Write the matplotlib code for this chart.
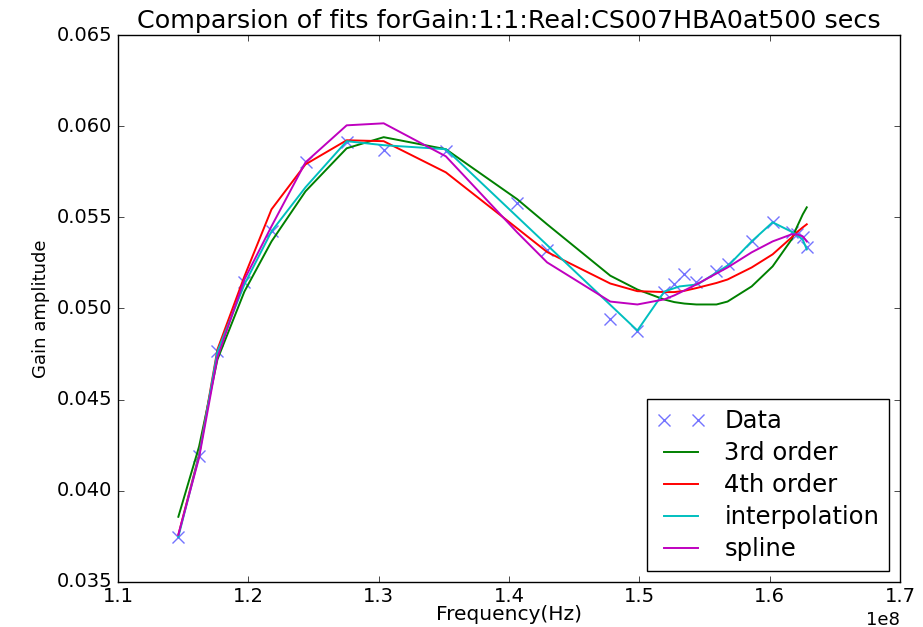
#!/usr/bin/env python3

import matplotlib
matplotlib.use("Agg")
import matplotlib.pyplot as plt

# frequencies are in units of 1e8 Hz (shown with the 1e8 offset on the axis)
data_freq = [1.1462, 1.1621, 1.1762, 1.1969, 1.2177, 1.2438, 1.2754, 1.3038, 1.3515,
             1.4062, 1.4292, 1.4777, 1.4985, 1.5192, 1.5269, 1.5346, 1.5438, 1.5592,
             1.5677, 1.5862, 1.6023, 1.6169, 1.6208, 1.6254, 1.6285]
data_gain = [0.03747, 0.04192, 0.04764, 0.05143, 0.05423, 0.05802, 0.05912, 0.05868, 0.05863,
             0.05577, 0.05319, 0.04940, 0.04879, 0.05093, 0.05132, 0.05187, 0.05143, 0.05203,
             0.05242, 0.05368, 0.05473, 0.05418, 0.05407, 0.05390, 0.05335]

fit3_gain = [0.03857, 0.04242, 0.04720, 0.05093, 0.05368, 0.05643, 0.05879, 0.05940, 0.05874,
             0.05600, 0.05462, 0.05180, 0.05104, 0.05049, 0.05035, 0.05027, 0.05022, 0.05022,
             0.05038, 0.05121, 0.05231, 0.05379, 0.05445, 0.05516, 0.05555]
fit4_gain = [0.03758, 0.04198, 0.04775, 0.05176, 0.05544, 0.05791, 0.05923, 0.05918, 0.05747,
             0.05440, 0.05310, 0.05137, 0.05095, 0.05090, 0.05090, 0.05097, 0.05112, 0.05140,
             0.05159, 0.05225, 0.05297, 0.05390, 0.05418, 0.05445, 0.05462]
spline_gain = [0.03758, 0.04181, 0.04731, 0.05159, 0.05451, 0.05802, 0.06005, 0.06016, 0.05835,
               0.05418, 0.05253, 0.05038, 0.05022, 0.05050, 0.05072, 0.05099, 0.05132, 0.05192,
               0.05225, 0.05308, 0.05368, 0.05407, 0.05407, 0.05396, 0.05368]

interp_freq = [1.1462, 1.1621, 1.1762, 1.1969, 1.2177, 1.2438, 1.2754, 1.3038, 1.3515,
               1.4985, 1.5192, 1.5308, 1.5446, 1.5692, 1.5862, 1.6023, 1.6177, 1.6254, 1.6285]
interp_gain = [0.03747, 0.04192, 0.04764, 0.05132, 0.05423, 0.05665, 0.05918, 0.05896, 0.05874,
               0.04879, 0.05093, 0.05121, 0.05132, 0.05242, 0.05368, 0.05473, 0.05418, 0.05379,
               0.05324]

TITLE = "Comparsion of fits forGain:1:1:Real:CS007HBA0at500 secs"


def main():
    plt.style.use("classic")
    fig = plt.figure(figsize=(9.23, 6.27), dpi=100, facecolor="white")
    ax = fig.add_axes([0.128, 0.072, 0.847, 0.872])

    to_hz = lambda xs: [x * 1e8 for x in xs]

    ax.plot(to_hz(data_freq), data_gain, "x", color=(0.45, 0.45, 1.0),
            markersize=8, markeredgewidth=1.0, label="Data")
    ax.plot(to_hz(data_freq), fit3_gain, color=(0, 0.5, 0), lw=1.4, label="3rd order")
    ax.plot(to_hz(data_freq), fit4_gain, color=(1, 0, 0), lw=1.4, label="4th order")
    ax.plot(to_hz(interp_freq), interp_gain, color=(0, 0.75, 0.75), lw=1.4, label="interpolation")
    ax.plot(to_hz(data_freq), spline_gain, color=(0.75, 0, 0.75), lw=1.4, label="spline")

    ax.set_xlim(1.1e8, 1.7e8)
    ax.set_ylim(0.035, 0.065)
    ax.set_xticks([1.1e8, 1.2e8, 1.3e8, 1.4e8, 1.5e8, 1.6e8, 1.7e8])
    ax.set_yticks([0.035, 0.040, 0.045, 0.050, 0.055, 0.060, 0.065])
    ax.set_yticklabels(["0.035", "0.040", "0.045", "0.050", "0.055", "0.060", "0.065"])
    ax.tick_params(labelsize=14)
    ax.tick_params(axis="x", pad=4)
    ax.xaxis.get_offset_text().set_fontsize(13)

    ax.set_title(TITLE, fontsize=18.3)
    ax.set_xlabel("Frequency(Hz)", fontsize=14.5, labelpad=-1)
    ax.set_ylabel("Gain amplitude", fontsize=13)

    ax.legend(loc="lower right", fontsize=17.5, numpoints=2, frameon=True,
              labelspacing=0.33, borderaxespad=0.45)

    fig.savefig("out.png", dpi=100, facecolor="white")
    plt.close(fig)


if __name__ == "__main__":
    main()
